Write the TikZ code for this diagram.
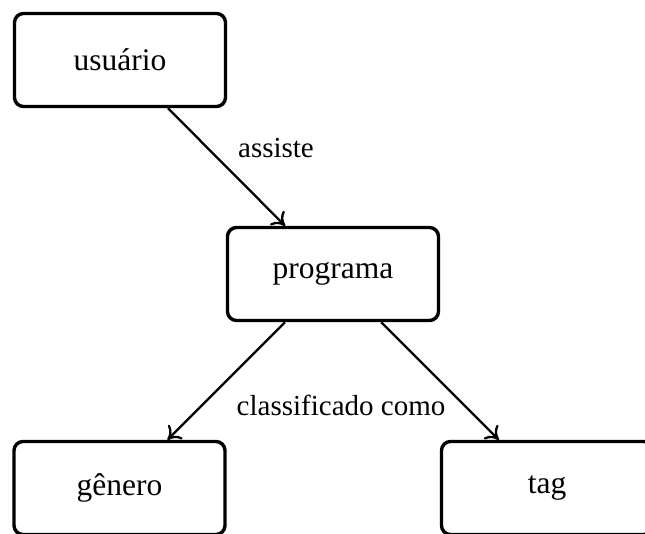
\documentclass[tikz,border=0pt]{standalone}
\usepackage{fontspec}
\setmainfont{Liberation Serif}
\usetikzlibrary{arrows.meta}
\begin{document}
\begin{tikzpicture}[x=1pt,y=-1pt,
  entity/.style={draw, line width=3.4pt, rounded corners=9pt, minimum width=211pt, minimum height=93pt, inner sep=0pt, font=\fontsize{31.5}{36}\selectfont},
  rel/.style={line width=2.3pt, -{To[length=12pt,width=20pt]}},
  lbl/.style={inner sep=0pt, font=\fontsize{29}{34}\selectfont}]
\useasboundingbox (0,0) rectangle (645,534);
\node[entity] (u) at (120,60) {usuário};
\node[entity] (p) at (333,274) {programa};
\node[entity] (g) at (119.5,488) {gênero};
\node[entity] (t) at (547,488) {tag};
\draw[rel] (u) -- (p);
\draw[rel] (p) -- (g);
\draw[rel] (p) -- (t);
\node[lbl] (la) at (276,148) {assiste};
\node[lbl] (lc) at (341,405) {classificado como};
\end{tikzpicture}
\end{document}
